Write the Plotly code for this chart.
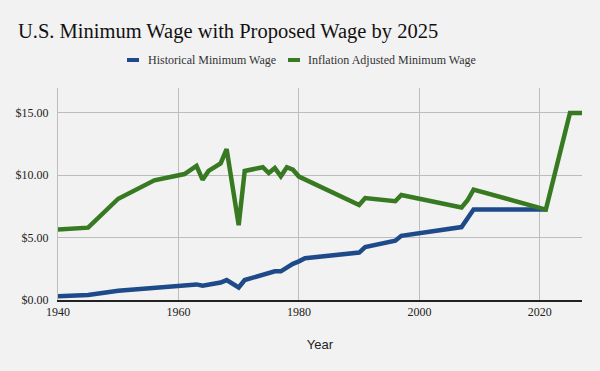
import plotly.graph_objects as go

hist_years = [1940, 1945, 1950, 1956, 1961, 1963, 1964, 1965, 1967, 1968, 1970, 1971,
              1974, 1975, 1976, 1977, 1978, 1979, 1980, 1981, 1990, 1991, 1996, 1997,
              2007, 2008, 2009, 2021]
hist_wage = [0.30, 0.40, 0.75, 1.00, 1.15, 1.25, 1.15, 1.25, 1.40, 1.60, 1.00, 1.60,
             2.00, 2.10, 2.30, 2.30, 2.65, 2.90, 3.10, 3.35, 3.80, 4.25, 4.75, 5.15,
             5.85, 6.55, 7.25, 7.25]

adj_years = [1940, 1945, 1950, 1956, 1961, 1963, 1964, 1965, 1967, 1968, 1970, 1971,
             1974, 1975, 1976, 1977, 1978, 1979, 1980, 1990, 1991, 1996, 1997,
             2007, 2008, 2009, 2021, 2025, 2027]
adj_wage = [5.66, 5.80, 8.12, 9.60, 10.10, 10.75, 9.65, 10.35, 10.95, 12.10, 6.00, 10.35,
            10.65, 10.18, 10.58, 9.92, 10.65, 10.45, 9.90, 7.62, 8.17, 7.92, 8.42,
            7.42, 8.00, 8.85, 7.25, 15.00, 15.00]

series_names = ["Historical Minimum Wage", "Inflation Adjusted Minimum Wage"]
series_colors = ["#1f4a8a", "#377a22"]

x_ticks = [1940, 1960, 1980, 2000, 2020]
y_ticks = [0, 5, 10, 15]
y_tick_labels = ["$0.00", "$5.00", "$10.00", "$15.00"]

serif = "Liberation Serif"

fig = go.Figure()
fig.add_trace(go.Scatter(x=hist_years, y=hist_wage, mode="lines",
                         name=series_names[0],
                         line=dict(color=series_colors[0], width=4.5)))
fig.add_trace(go.Scatter(x=adj_years, y=adj_wage, mode="lines",
                         name=series_names[1],
                         line=dict(color=series_colors[1], width=4.5)))

# custom compact legend (short swatches, like the reference)
legend_swatch_x = [(0.1317, 0.1546), (0.4389, 0.4618)]
legend_text_x = [0.1680, 0.4735]
legend_y = 1.132
for (x0, x1), tx, name, col in zip(legend_swatch_x, legend_text_x, series_names, series_colors):
    fig.add_shape(type="line", xref="paper", yref="paper", x0=x0, x1=x1,
                  y0=legend_y, y1=legend_y, line=dict(color=col, width=4))
    fig.add_annotation(text=name, xref="paper", yref="paper", x=tx, y=legend_y,
                       xanchor="left", yanchor="middle", showarrow=False,
                       font=dict(family=serif, size=12, color="#333333"))

fig.update_layout(
    width=600, height=371,
    paper_bgcolor="#f2f2f2", plot_bgcolor="#f2f2f2",
    margin=dict(l=58, r=18, t=88, b=71),
    title=dict(text="U.S. Minimum Wage with Proposed Wage by 2025",
               x=0.03, xanchor="left", y=0.918, yanchor="middle",
               font=dict(family=serif, size=20.5, color="#111111")),
    showlegend=False,
    xaxis=dict(range=[1940, 2027], tickvals=x_ticks, ticktext=[str(v) for v in x_ticks],
               showgrid=True, gridcolor="#bdbdbd", gridwidth=1,
               showline=True, linecolor="#222222", linewidth=1.5,
               ticks="", tickfont=dict(family=serif, size=12, color="#222222"),
               title=dict(text="Year", font=dict(family="Liberation Sans", size=13, color="#222222"), standoff=22),
               zeroline=False, fixedrange=True),
    yaxis=dict(range=[0, 17], tickvals=y_ticks, ticktext=y_tick_labels,
               showgrid=True, gridcolor="#bdbdbd", gridwidth=1,
               showline=True, linecolor="#bdbdbd", linewidth=1,
               ticks="", ticklabelstandoff=6,
               tickfont=dict(family=serif, size=12, color="#222222"),
               zeroline=False, fixedrange=True),
)

fig.write_html("out.html", config={"displayModeBar": False},
               post_script="document.body.style.margin='0';document.body.style.padding='0';")
